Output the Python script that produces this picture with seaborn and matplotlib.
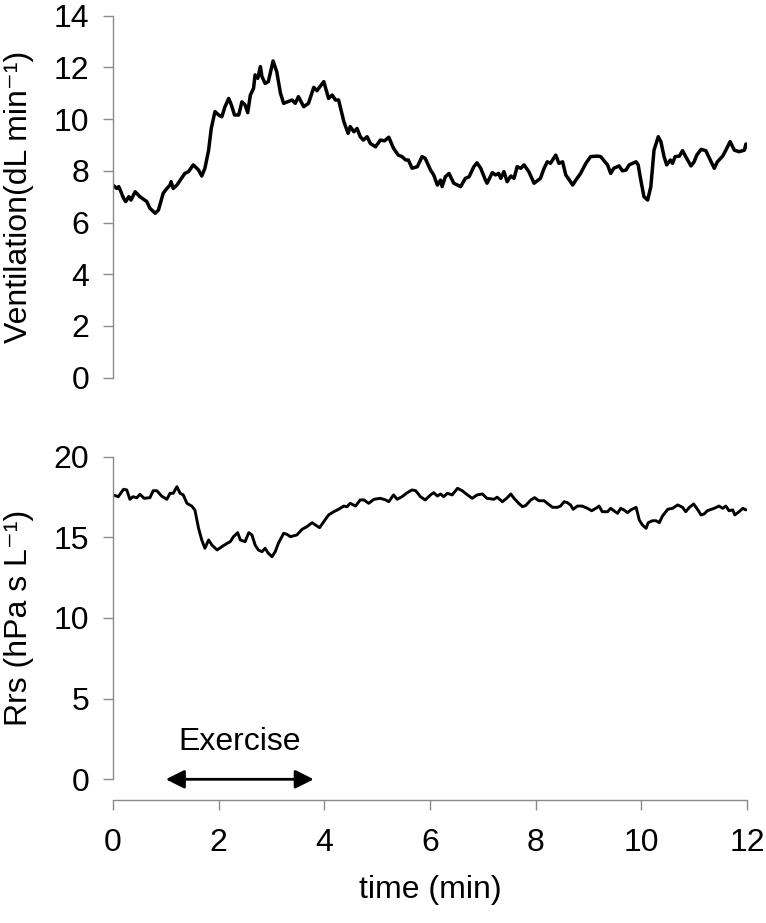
import matplotlib
matplotlib.use("Agg")
import matplotlib.pyplot as plt
import seaborn as sns
import pandas as pd

# ---- data ----
vent_time = [0.00, 0.07, 0.11, 0.20, 0.24, 0.30, 0.34, 0.42, 0.51, 0.64, 0.70, 0.80, 0.86, 0.95,
             1.02, 1.08, 1.10, 1.14, 1.21, 1.36, 1.43, 1.52, 1.62, 1.68, 1.74, 1.81, 1.86, 1.93,
             2.00, 2.06, 2.12, 2.19, 2.24, 2.30, 2.38, 2.44, 2.50, 2.55, 2.60, 2.66, 2.69, 2.74,
             2.79, 2.82, 2.88, 2.94, 3.03, 3.10, 3.17, 3.23, 3.39, 3.45, 3.51, 3.61, 3.70, 3.80,
             3.86, 3.99, 4.08, 4.15, 4.21, 4.27, 4.37, 4.45, 4.49, 4.56, 4.62, 4.68, 4.74, 4.81,
             4.87, 4.97, 5.06, 5.14, 5.22, 5.31, 5.40, 5.47, 5.54, 5.59, 5.66, 5.76, 5.85, 5.91,
             6.01, 6.07, 6.14, 6.20, 6.23, 6.29, 6.36, 6.45, 6.58, 6.67, 6.74, 6.83, 6.89, 6.96,
             7.05, 7.08, 7.18, 7.24, 7.30, 7.34, 7.40, 7.46, 7.53, 7.59, 7.65, 7.72, 7.78, 7.87,
             7.97, 8.09, 8.16, 8.22, 8.28, 8.38, 8.44, 8.51, 8.57, 8.66, 8.70, 8.76, 8.85, 8.95,
             9.04, 9.17, 9.23, 9.36, 9.42, 9.48, 9.58, 9.64, 9.71, 9.77, 9.90, 9.94, 9.99, 10.05,
             10.12, 10.18, 10.24, 10.32, 10.37, 10.43, 10.48, 10.55, 10.59, 10.64, 10.72, 10.78,
             10.84, 10.94, 11.00, 11.05, 11.13, 11.22, 11.29, 11.38, 11.44, 11.54, 11.60, 11.68,
             11.76, 11.85, 11.95, 11.98, 12.00]
ventilation = [7.45, 7.32, 7.39, 6.94, 6.81, 7.00, 6.87, 7.19, 7.00, 6.81, 6.55, 6.36, 6.48, 7.13,
               7.32, 7.45, 7.58, 7.32, 7.45, 7.90, 7.97, 8.23, 8.03, 7.80, 8.10, 8.80, 9.64, 10.29,
               10.16, 10.09, 10.48, 10.80, 10.55, 10.16, 10.16, 10.67, 10.55, 10.25, 10.93, 11.19,
               11.71, 11.58, 12.03, 11.64, 11.38, 11.45, 12.25, 11.83, 11.00, 10.61, 10.74, 10.61,
               10.87, 10.48, 10.61, 11.23, 11.10, 11.45, 10.80, 10.93, 10.74, 10.74, 9.90, 9.45,
               9.71, 9.51, 9.64, 9.32, 9.19, 9.32, 9.06, 8.93, 9.19, 9.16, 9.30, 8.87, 8.61, 8.55,
               8.42, 8.42, 8.10, 8.16, 8.55, 8.48, 8.03, 7.84, 7.45, 7.64, 7.39, 7.77, 7.90, 7.52,
               7.39, 7.71, 7.77, 8.16, 8.31, 8.10, 7.64, 7.52, 7.93, 7.84, 7.90, 7.71, 7.97, 7.58,
               7.80, 7.71, 8.16, 8.10, 8.23, 7.97, 7.52, 7.71, 8.10, 8.35, 8.29, 8.61, 8.29, 8.35,
               7.84, 7.58, 7.45, 7.64, 7.90, 8.29, 8.55, 8.57, 8.55, 8.23, 7.90, 8.10, 8.19, 8.00,
               8.03, 8.23, 8.35, 8.23, 7.64, 7.00, 6.87, 7.39, 8.80, 9.32, 9.13, 8.55, 8.23, 8.42,
               8.29, 8.55, 8.57, 8.78, 8.55, 8.19, 8.35, 8.61, 8.83, 8.78, 8.48, 8.10, 8.35, 8.57,
               8.80, 9.13, 8.80, 8.74, 8.80, 9.04, 8.93]

rrs_time = [0.00, 0.10, 0.20, 0.26, 0.32, 0.38, 0.45, 0.51, 0.59, 0.70, 0.76, 0.83, 0.92, 1.02,
            1.08, 1.14, 1.21, 1.27, 1.33, 1.40, 1.49, 1.55, 1.62, 1.68, 1.74, 1.81, 1.87, 1.97,
            2.06, 2.16, 2.22, 2.28, 2.36, 2.41, 2.50, 2.57, 2.63, 2.69, 2.75, 2.82, 2.88, 2.94,
            3.01, 3.07, 3.13, 3.23, 3.29, 3.36, 3.48, 3.58, 3.67, 3.77, 3.83, 3.91, 3.99, 4.08,
            4.18, 4.27, 4.37, 4.43, 4.49, 4.59, 4.68, 4.75, 4.84, 4.94, 5.06, 5.16, 5.22, 5.31,
            5.38, 5.47, 5.57, 5.66, 5.73, 5.82, 5.91, 6.01, 6.07, 6.14, 6.20, 6.26, 6.33, 6.42,
            6.52, 6.61, 6.71, 6.80, 6.89, 6.99, 7.08, 7.21, 7.27, 7.37, 7.45, 7.53, 7.59, 7.68,
            7.75, 7.81, 7.91, 7.98, 8.06, 8.16, 8.22, 8.32, 8.41, 8.47, 8.54, 8.60, 8.66, 8.71,
            8.79, 8.88, 8.98, 9.06, 9.14, 9.20, 9.26, 9.36, 9.42, 9.48, 9.55, 9.61, 9.67, 9.74,
            9.80, 9.90, 9.93, 9.96, 10.02, 10.09, 10.13, 10.21, 10.28, 10.34, 10.40, 10.50,
            10.59, 10.69, 10.78, 10.84, 10.91, 10.99, 11.07, 11.13, 11.19, 11.25, 11.38, 11.47,
            11.54, 11.60, 11.66, 11.73, 11.77, 11.85, 11.92, 11.98]
rrs = [17.63, 17.52, 17.98, 17.94, 17.36, 17.52, 17.45, 17.67, 17.42, 17.46, 17.89, 17.89, 17.56,
       17.36, 17.73, 17.73, 18.14, 17.73, 17.63, 17.11, 16.94, 16.70, 15.56, 14.84, 14.32, 14.84,
       14.53, 14.22, 14.42, 14.63, 14.73, 15.04, 15.29, 14.84, 14.73, 15.29, 15.15, 14.53, 14.22,
       14.11, 14.32, 14.01, 13.80, 14.11, 14.63, 15.25, 15.19, 15.04, 15.15, 15.50, 15.66, 15.91,
       15.77, 15.60, 15.97, 16.39, 16.59, 16.74, 16.94, 16.90, 17.11, 16.94, 17.32, 17.32, 17.11,
       17.36, 17.42, 17.32, 17.21, 17.63, 17.36, 17.52, 17.77, 17.94, 17.89, 17.52, 17.32, 17.63,
       17.77, 17.56, 17.69, 17.52, 17.73, 17.63, 18.04, 17.89, 17.63, 17.42, 17.63, 17.69, 17.42,
       17.36, 17.49, 17.21, 17.42, 17.69, 17.42, 17.11, 16.90, 16.97, 17.32, 17.46, 17.27, 17.27,
       17.11, 16.86, 16.86, 16.94, 17.21, 17.15, 17.01, 16.74, 16.94, 16.94, 16.80, 16.65, 16.80,
       16.94, 16.59, 16.59, 16.80, 16.65, 16.49, 16.80, 16.70, 16.53, 16.70, 16.86, 16.49, 16.08,
       15.77, 15.56, 15.91, 16.03, 16.03, 15.91, 16.32, 16.74, 16.80, 17.01, 16.86, 16.59, 16.86,
       17.07, 16.70, 16.39, 16.45, 16.65, 16.80, 16.94, 16.80, 16.94, 16.65, 16.70, 16.39, 16.59,
       16.80, 16.70]

vent_ticks = [0, 2, 4, 6, 8, 10, 12, 14]
rrs_ticks = [0, 5, 10, 15, 20]
time_ticks = [0, 2, 4, 6, 8, 10, 12]
exercise_span = [1.0, 3.8]

# ---- style ----
sns.set_style("ticks")
plt.rcParams['font.family'] = ['Liberation Sans', 'DejaVu Sans']
plt.rcParams['text.color'] = 'black'
plt.rcParams['axes.labelcolor'] = 'black'
GREY = '#8a8a8a'
FS = 23

fig = plt.figure(figsize=(7.66, 9.23), dpi=100)
ax1 = fig.add_axes([0.1475, 0.5908, 0.8277, 0.3922])
ax2 = fig.add_axes([0.1475, 0.1557, 0.8277, 0.3495])

df_v = pd.DataFrame({'time': vent_time, 'vent': ventilation})
df_r = pd.DataFrame({'time': rrs_time, 'rrs': rrs})

sns.lineplot(data=df_v, x='time', y='vent', ax=ax1, color='black', lw=2.5, sort=False,
             estimator=None)
sns.lineplot(data=df_r, x='time', y='rrs', ax=ax2, color='black', lw=2.1, sort=False,
             estimator=None)

# top panel
ax1.set_xlim(0, 12)
ax1.set_ylim(0, 14)
ax1.set_yticks(vent_ticks)
ax1.set_xticks([])
for s in ['top', 'right', 'bottom']:
    ax1.spines[s].set_visible(False)
ax1.spines['left'].set_color(GREY)
ax1.spines['left'].set_linewidth(1.0)
ax1.tick_params(axis='y', direction='out', length=7.2, width=1, color=GREY,
                labelcolor='black', labelsize=FS, pad=10)
ax1.set_xlabel('')
ax1.set_ylabel('Ventilation(dL min⁻¹)', fontsize=FS, va='center', color='black')
ax1.yaxis.set_label_coords(-0.148, 0.5)

# bottom panel
ax2.set_xlim(0, 12)
ax2.set_ylim(0, 20)
ax2.set_yticks(rrs_ticks)
ax2.set_xticks(time_ticks)
for s in ['top', 'right']:
    ax2.spines[s].set_visible(False)
for s in ['left', 'bottom']:
    ax2.spines[s].set_color(GREY)
    ax2.spines[s].set_linewidth(1.0)
ax2.spines['bottom'].set_position(('outward', 15))
ax2.tick_params(axis='y', direction='out', length=7.2, width=1, color=GREY,
                labelcolor='black', labelsize=FS, pad=10)
ax2.tick_params(axis='x', direction='out', length=7.2, width=1, color=GREY,
                labelcolor='black', labelsize=FS, pad=13)
ax2.set_xlabel('time (min)', fontsize=FS, labelpad=12, color='black')
ax2.set_ylabel('Rrs (hPa s L⁻¹)', fontsize=FS, va='center', color='black')
ax2.yaxis.set_label_coords(-0.148, 0.5)

# exercise annotation
ax2.annotate('', xy=(exercise_span[0], 0), xytext=(exercise_span[1], 0),
             arrowprops=dict(arrowstyle='<|-|>', lw=2, color='black', mutation_scale=28,
                             shrinkA=0, shrinkB=0),
             annotation_clip=False)
ax2.text(sum(exercise_span) / 2, 1.8, 'Exercise', ha='center', va='baseline',
         fontsize=FS, color='black')

fig.savefig('out.png', dpi=100)
